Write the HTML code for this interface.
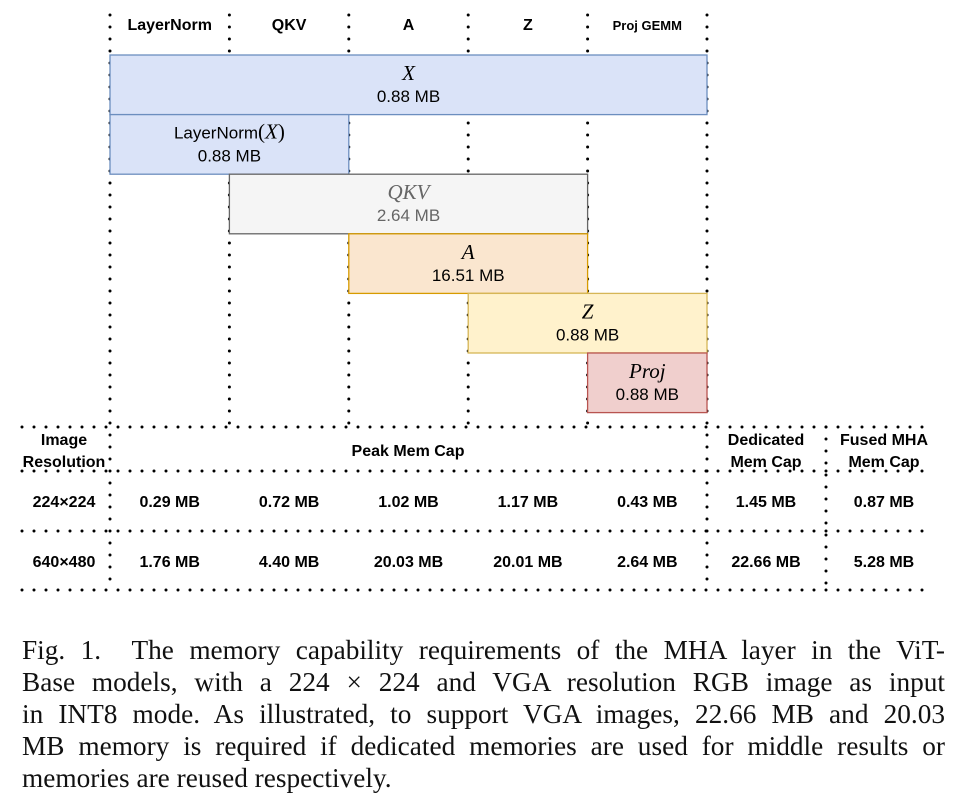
<!DOCTYPE html>
<html><head><meta charset="utf-8">
<style>
html,body{margin:0;padding:0;background:#fff;width:970px;height:792px;overflow:hidden}
#cap{position:absolute;left:22px;top:634px;width:923px;font-family:"Liberation Serif",serif;font-size:27.3px;line-height:32px;color:#111}
#cap div{text-align:justify;text-align-last:justify;white-space:nowrap}
#cap div.last{text-align-last:left}
svg{position:absolute;left:0;top:0}
</style></head><body>
<svg id="dia" width="970" height="630" font-family="Liberation Sans, sans-serif"></svg>
<div id="cap">
<div>Fig. 1.&nbsp; The memory capability requirements of the MHA layer in the ViT-</div>
<div>Base models, with a 224 × 224 and VGA resolution RGB image as input</div>
<div>in INT8 mode. As illustrated, to support VGA images, 22.66 MB and 20.03</div>
<div>MB memory is required if dedicated memories are used for middle results or</div>
<div class="last">memories are reused respectively.</div>
</div>
<script>
const stages = ["LayerNorm","QKV","A","Z","Proj GEMM"];
const boxNames = ["X","LayerNorm(X)","QKV","A","Z","Proj"];
const boxSizes = ["0.88 MB","0.88 MB","2.64 MB","16.51 MB","0.88 MB","0.88 MB"];
const boxStart = [0,0,1,2,3,4];
const boxEnd = [5,2,4,4,5,5];
const resolutions = ["224×224","640×480"];
const peak224 = [0.29,0.72,1.02,1.17,0.43];
const peak640 = [1.76,4.40,20.03,20.01,2.64];
const dedicated = [1.45,22.66];
const fused = [0.87,5.28];

const NS="http://www.w3.org/2000/svg";
const svg=document.getElementById('dia');
const colX=i=>110+i*119.4;
const rowY=i=>55+i*59.6;
function el(t,a,p){const e=document.createElementNS(NS,t);for(const k in a)e.setAttribute(k,a[k]);(p||svg).appendChild(e);return e;}
function txt(x,y,s,opt){const e=el('text',Object.assign({x:x,y:y,'text-anchor':'middle','font-size':16,fill:'#000'},opt||{}));e.textContent=s;return e;}
function dots(x1,y1,x2,y2,name){const e=el('line',{x1:x1,y1:y1,x2:x2,y2:y2,stroke:'#000','stroke-width':3,'stroke-dasharray':'0 12','stroke-linecap':'round'});

}
for(let i=0;i<=5;i++){dots(colX(i),15,colX(i),i==0||i==5?590:427,'stage-divider');}
dots(826,427,826,590,'table-divider');
[427,471,531,590].forEach(y=>dots(22,y,930,y,'table-row-line'));
stages.forEach((s,i)=>{const t=txt((colX(i)+colX(i+1))/2,30,s,{'font-weight':'bold','font-size':i==4?13:16});

});
const fills=['#dae3f8','#dae3f8','#f5f5f5','#fae6cf','#fff2cc','#f0cfcd'];
const strokes=['#6c8ebf','#6c8ebf','#666666','#d79b00','#d6b656','#b85450'];
const tcol=['#000','#000','#666','#000','#000','#000'];
boxNames.forEach((n,i)=>{
 const x1=colX(boxStart[i]),x2=colX(boxEnd[i]),y=rowY(i);
 const r=el('rect',{x:x1,y:y,width:x2-x1,height:59.6,fill:fills[i],stroke:strokes[i],'stroke-width':1.3});
 
 
 const cx=(x1+x2)/2;
 if(n==="LayerNorm(X)"){const t=txt(cx,y+24,'',{'font-size':17});t.innerHTML='LayerNorm<tspan font-family="Liberation Serif, serif" font-size="21">(<tspan font-style="italic">X</tspan>)</tspan>';}
 else txt(cx,y+25,n,{'font-family':'Liberation Serif, serif','font-style':'italic','font-size':21,fill:tcol[i]});
 txt(cx,y+47,boxSizes[i],{'font-size':17,fill:tcol[i]});
});
const hb={'font-weight':'bold','font-size':16};
txt(64,445,'Image',hb);txt(64,467,'Resolution',hb);
txt(408,456,'Peak Mem Cap',hb);
txt(766,445,'Dedicated',hb);txt(766,467,'Mem Cap',hb);
txt(884,445,'Fused MHA',hb);txt(884,467,'Mem Cap',hb);
const rowsY=[507,567];
[peak224,peak640].forEach((arr,r)=>{
 txt(64,rowsY[r],resolutions[r],hb);
 arr.forEach((v,i)=>{const t=txt((colX(i)+colX(i+1))/2,rowsY[r],v.toFixed(2)+' MB',hb);
 
 });
 txt(766,rowsY[r],dedicated[r].toFixed(2)+' MB',hb);
 txt(884,rowsY[r],fused[r].toFixed(2)+' MB',hb);
});
</script>
</body></html>
